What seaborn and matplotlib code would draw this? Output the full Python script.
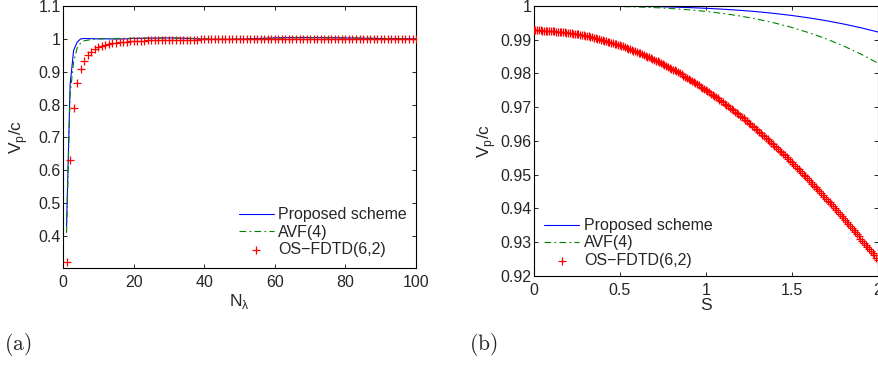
import matplotlib
matplotlib.use("Agg")
import matplotlib.pyplot as plt
import seaborn as sns

# ---- panel (a): phase velocity versus points per wavelength ----
n_lambda_lines = [1, 2, 3, 4, 5, 6, 8, 10, 12, 15, 18, 20, 25, 30, 35, 40, 45,
                  50, 55, 60, 65, 70, 75, 80, 85, 90, 95, 100]
proposed_a = [0.43, 0.86, 0.965, 0.99, 1.0, 1.001, 1.0005, 1.0, 1.0, 0.9995,
              1.0, 1.0015, 1.002, 1.003, 1.0015, 0.999, 0.9985, 0.999, 1.001,
              1.003, 1.004, 1.004, 1.0035, 1.003, 1.002, 1.001, 1.0005, 1.0]
avf4_a = [0.41, 0.83, 0.93, 0.972, 0.988, 0.994, 0.998, 1.0, 1.001, 1.001,
          1.0015, 1.002, 1.0025, 1.003, 1.002, 1.0, 0.999, 0.999, 1.0005,
          1.002, 1.003, 1.0035, 1.003, 1.0025, 1.002, 1.001, 1.0005, 1.0]

n_lambda_pts = list(range(1, 101))
osfdtd_a = [0.322, 0.631, 0.789, 0.865, 0.909, 0.934, 0.950, 0.961, 0.968, 0.974,
            0.978, 0.981, 0.984, 0.986, 0.988, 0.989, 0.990, 0.991, 0.992, 0.993,
            0.9935, 0.994, 0.9945, 0.995, 0.9953, 0.9957, 0.996, 0.9963, 0.9966, 0.9968,
            0.997, 0.9972, 0.9974, 0.9975, 0.9977, 0.9978, 0.9979, 0.998, 0.9981, 0.9982,
            0.9983, 0.9983, 0.9984, 0.9985, 0.9985, 0.9986, 0.9987, 0.9987, 0.9988, 0.9988,
            0.9989, 0.9989, 0.9990, 0.9990, 0.9990, 0.9991, 0.9991, 0.9991, 0.9992, 0.9992,
            0.9992, 0.9992, 0.9993, 0.9993, 0.9993, 0.9993, 0.9994, 0.9994, 0.9994, 0.9994,
            0.9994, 0.9995, 0.9995, 0.9995, 0.9995, 0.9995, 0.9995, 0.9995, 0.9995, 0.9995,
            0.9995, 0.9995, 0.9995, 0.9995, 0.9995, 0.9996, 0.9996, 0.9996, 0.9996, 0.9996,
            0.9996, 0.9996, 0.9996, 0.9996, 0.9996, 0.9996, 0.9996, 0.9996, 0.9996, 0.9996]

# ---- panel (b): phase velocity versus stability factor S ----
s_lines = [0.0, 0.1, 0.2, 0.3, 0.4, 0.5, 0.6, 0.7, 0.8, 0.9, 1.0,
           1.1, 1.2, 1.3, 1.4, 1.5, 1.6, 1.7, 1.8, 1.9, 2.0]
proposed_b = [1.0, 1.0, 1.0, 0.99999, 0.99997, 0.99994, 0.99989, 0.99981,
              0.99969, 0.99953, 0.99932, 0.99905, 0.99871, 0.9983, 0.99779,
              0.99719, 0.99648, 0.99565, 0.99468, 0.99358, 0.99231]
avf4_b = [1.0, 1.0, 0.99999, 0.99997, 0.99993, 0.99985, 0.99972, 0.99953,
          0.99925, 0.99888, 0.9984, 0.99779, 0.99703, 0.99609, 0.99498,
          0.99365, 0.99208, 0.99029, 0.98819, 0.98581, 0.9831]

s_pts = [round(0.01 * i, 2) for i in range(201)]
osfdtd_b = [
    0.9928, 0.9928, 0.9928, 0.9928, 0.9928, 0.9927, 0.9927, 0.9927, 0.9927, 0.9926,
    0.9926, 0.9925, 0.9925, 0.9924, 0.9924, 0.9923, 0.9923, 0.9922, 0.9922, 0.9921,
    0.9921, 0.9920, 0.9919, 0.9918, 0.9918, 0.9917, 0.9916, 0.9915, 0.9914, 0.9913,
    0.9912, 0.9911, 0.9910, 0.9908, 0.9907, 0.9906, 0.9905, 0.9903, 0.9902, 0.9900,
    0.9899, 0.9897, 0.9896, 0.9894, 0.9893, 0.9891, 0.9890, 0.9888, 0.9887, 0.9885,
    0.9883, 0.9881, 0.9880, 0.9878, 0.9876, 0.9874, 0.9872, 0.9870, 0.9868, 0.9866,
    0.9864, 0.9862, 0.9860, 0.9857, 0.9855, 0.9853, 0.9850, 0.9848, 0.9846, 0.9843,
    0.9841, 0.9838, 0.9836, 0.9833, 0.9831, 0.9828, 0.9825, 0.9822, 0.9820, 0.9817,
    0.9814, 0.9811, 0.9809, 0.9806, 0.9803, 0.9800, 0.9797, 0.9794, 0.9791, 0.9788,
    0.9784, 0.9781, 0.9778, 0.9775, 0.9772, 0.9768, 0.9765, 0.9761, 0.9758, 0.9754,
    0.9751, 0.9747, 0.9744, 0.9740, 0.9737, 0.9733, 0.9730, 0.9726, 0.9722, 0.9718,
    0.9715, 0.9711, 0.9707, 0.9703, 0.9699, 0.9695, 0.9691, 0.9687, 0.9683, 0.9679,
    0.9675, 0.9671, 0.9667, 0.9662, 0.9658, 0.9654, 0.9649, 0.9645, 0.9641, 0.9636,
    0.9632, 0.9627, 0.9623, 0.9618, 0.9614, 0.9609, 0.9605, 0.9600, 0.9595, 0.9590,
    0.9586, 0.9581, 0.9576, 0.9571, 0.9566, 0.9561, 0.9557, 0.9552, 0.9547, 0.9542,
    0.9537, 0.9531, 0.9526, 0.9521, 0.9516, 0.9511, 0.9506, 0.9500, 0.9495, 0.9490,
    0.9485, 0.9479, 0.9474, 0.9468, 0.9463, 0.9457, 0.9452, 0.9446, 0.9441, 0.9435,
    0.9429, 0.9423, 0.9418, 0.9412, 0.9407, 0.9401, 0.9395, 0.9389, 0.9383, 0.9377,
    0.9372, 0.9366, 0.9360, 0.9354, 0.9348, 0.9342, 0.9336, 0.9329, 0.9323, 0.9317,
    0.9311, 0.9305, 0.9299, 0.9292, 0.9286, 0.9280, 0.9274, 0.9267, 0.9261, 0.9254,
    0.9248]

labels = ["Proposed scheme", "AVF(4)", "OS\u2212FDTD(6,2)"]
a_xticks = [0, 20, 40, 60, 80, 100]
a_yticks = [0.4, 0.5, 0.6, 0.7, 0.8, 0.9, 1.0, 1.1]
a_yticklabels = ["0.4", "0.5", "0.6", "0.7", "0.8", "0.9", "1", "1.1"]
b_xticks = [0, 0.5, 1, 1.5, 2]
b_xticklabels = ["0", "0.5", "1", "1.5", "2"]
b_yticks = [0.92, 0.93, 0.94, 0.95, 0.96, 0.97, 0.98, 0.99, 1.0]
b_yticklabels = ["0.92", "0.93", "0.94", "0.95", "0.96", "0.97", "0.98", "0.99", "1"]

sns.set_style("ticks", {
    "xtick.direction": "in", "ytick.direction": "in",
    "axes.edgecolor": "black",
})
plt.rcParams["font.family"] = ["Liberation Sans", "DejaVu Sans"]
plt.rcParams["axes.linewidth"] = 0.8
plt.rcParams["xtick.major.size"] = 2.8
plt.rcParams["ytick.major.size"] = 2.8
plt.rcParams["xtick.major.width"] = 0.7
plt.rcParams["ytick.major.width"] = 0.7

BLUE = "#0000ff"
GREEN = "#008000"
RED = "#ff0000"
DASHDOT = (0, (6, 3, 1.5, 3))
TICK_FS = 11.5
LABEL_FS = 12.5

fig = plt.figure(figsize=(8.79, 3.67), dpi=100)
ax_a = fig.add_axes([0.0717, 0.2698, 0.4016, 0.7139])
ax_b = fig.add_axes([0.6072, 0.2480, 0.3913, 0.7357])


def style_axes(ax):
    ax.tick_params(which="both", top=True, right=True, direction="in",
                   labelsize=TICK_FS)
    ax.tick_params(axis="y", pad=1.8)
    ax.tick_params(axis="x", pad=5)
    for sp in ax.spines.values():
        sp.set_visible(True)
        sp.set_color("black")


def add_legend(ax, loc, anchor):
    h, l = ax.get_legend_handles_labels()
    ax.legend(h, l, loc=loc, bbox_to_anchor=anchor, frameon=False,
              fontsize=11.5, handlelength=2.2, handletextpad=0.3,
              labelspacing=0.15, borderpad=0, borderaxespad=0,
              scatterpoints=1)


# panel (a)
sns.lineplot(x=n_lambda_lines, y=proposed_a, ax=ax_a, color=BLUE, lw=0.8,
             label=labels[0], sort=False, estimator=None)
sns.lineplot(x=n_lambda_lines, y=avf4_a, ax=ax_a, color=GREEN, lw=0.8,
             linestyle=DASHDOT, label=labels[1], sort=False, estimator=None)
sns.scatterplot(x=n_lambda_pts, y=osfdtd_a, ax=ax_a, marker="+", s=28,
                color=RED, linewidth=0.9, label=labels[2], zorder=3)
ax_a.set_xlim(0, 100)
ax_a.set_ylim(0.303, 1.1)
ax_a.set_xticks(a_xticks)
ax_a.set_xticklabels([str(t) for t in a_xticks])
ax_a.set_yticks(a_yticks)
ax_a.set_yticklabels(a_yticklabels)
style_axes(ax_a)
ax_a.set_xlabel("N$_\\mathregular{\u03bb}$", fontsize=LABEL_FS)
ax_a.set_ylabel("V$_\\mathregular{p}$/c", fontsize=LABEL_FS)
ax_a.xaxis.set_label_coords(0.5, -0.09)
ax_a.xaxis.label.set_va("top")
ax_a.yaxis.set_label_coords(-0.094, 0.5)
add_legend(ax_a, "lower right", (0.975, 0.041))

# panel (b)
sns.lineplot(x=s_lines, y=proposed_b, ax=ax_b, color=BLUE, lw=0.8,
             label=labels[0], sort=False, estimator=None)
sns.lineplot(x=s_lines, y=avf4_b, ax=ax_b, color=GREEN, lw=0.8,
             linestyle=DASHDOT, label=labels[1], sort=False, estimator=None)
sns.scatterplot(x=s_pts, y=osfdtd_b, ax=ax_b, marker="+", s=26,
                color=RED, linewidth=0.9, label=labels[2], zorder=3)
ax_b.set_xlim(0, 2)
ax_b.set_ylim(0.92, 1.0)
ax_b.set_xticks(b_xticks)
ax_b.set_xticklabels(b_xticklabels)
ax_b.set_yticks(b_yticks)
ax_b.set_yticklabels(b_yticklabels)
style_axes(ax_b)
ax_b.set_xlabel("S", fontsize=LABEL_FS)
ax_b.set_ylabel("V$_\\mathregular{p}$/c", fontsize=LABEL_FS)
ax_b.xaxis.set_label_coords(0.5, -0.08)
ax_b.xaxis.label.set_va("top")
ax_b.yaxis.set_label_coords(-0.103, 0.5)
add_legend(ax_b, "lower left", (0.03, 0.03))

# subfigure tags
fig.text(0.004, 0.06, r"$\mathrm{(a)}$", fontsize=15.5, math_fontfamily="cm",
         ha="left", va="center")
fig.text(0.533, 0.06, r"$\mathrm{(b)}$", fontsize=15.5, math_fontfamily="cm",
         ha="left", va="center")

fig.savefig("out.png", dpi=100)
